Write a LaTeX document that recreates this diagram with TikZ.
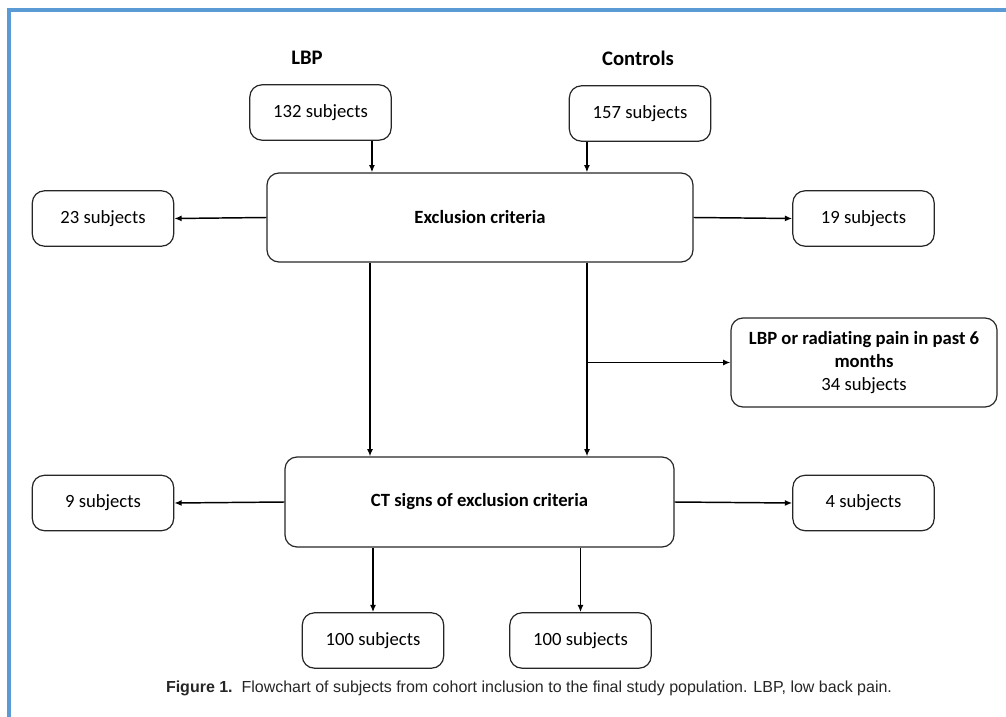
\documentclass[tikz,border=0pt]{standalone}
\usepackage{fontspec}
\setmainfont{Carlito}[Ligatures=NoCommon]
\newfontfamily\capfont{Liberation Sans}
\usetikzlibrary{arrows.meta}
\definecolor{frameblue}{RGB}{91,155,213}
\tikzset{
  box/.style={draw=black!85, line width=0.9pt, rounded corners=9pt, align=center,
    inner sep=0pt, font=\fontsize{14}{17}\selectfont},
  small/.style={box, minimum width=106pt, minimum height=41.5pt},
  flow/.style={-{Latex[length=5.5pt,width=4.5pt]}, line width=1.1pt},
  head/.style={font=\fontsize{15.5}{18}\selectfont\bfseries},
}

\begin{document}
\begin{tikzpicture}[x=0.75pt,y=-0.75pt]
        \useasboundingbox (0,0) rectangle (1006,717);
        \draw [frameblue, line width=2.3pt] (9,717) -- (9,10) -- (1006,10);
        \node [head] (LBP)  at (307,58) {LBP};
        \node [head] (CTL)  at (638,58) {Controls};
        \node [small] (S132) at (320.5,112.5) {132 subjects};
        \node [small] (S157) at (640,113.5) {157 subjects};
        \node [box, minimum width=319.5pt, minimum height=66.75pt] (EXC) at (480,217.5) {\bfseries Exclusion criteria};
        \node [small] (S23) at (103,218.5) {23 subjects};
        \node [small] (S19) at (863.5,218.5) {19 subjects};
        \node [box, minimum width=199.5pt, minimum height=66.75pt] (PAIN) at (864,362.5) {\bfseries LBP or radiating pain in past 6\\ \bfseries months\\ 34 subjects};
        \node [box, minimum width=291.75pt, minimum height=67.5pt] (CT) at (479.5,502) {\bfseries CT signs of exclusion criteria};
        \node [small] (S9)  at (103,503) {9 subjects};
        \node [small] (S4)  at (863.5,503) {4 subjects};
        \node [small] (FA)  at (373,640.5) {100 subjects};
        \node [small] (FB)  at (580.5,640.5) {100 subjects};
        \node [font=\capfont\fontsize{12}{14}\selectfont, text=black!85] (CAP) at (529,688) {{\bfseries Figure 1.}\ \ Flowchart of subjects from cohort inclusion to the final study population. LBP, low back pain.};
        \coordinate (BR) at (587,362.5);
        \draw [flow] ([xshift=38.6pt]S132.south) -- ([xshift=38.6pt]S132.south |- EXC.north);
        \draw [flow] ([xshift=-39.8pt]S157.south) -- ([xshift=-39.8pt]S157.south |- EXC.north);
        \draw [flow] (EXC.west) -- (S23.east);
        \draw [flow] (EXC.east) -- (S19.west);
        \draw [flow] ([xshift=-82.5pt]EXC.south) -- ([xshift=-82.5pt]EXC.south |- CT.north);
        \draw [flow] ([xshift=80.25pt]EXC.south) -- ([xshift=80.25pt]EXC.south |- CT.north);
        \draw [flow] (BR) -- (PAIN.west);
        \draw [flow] (CT.west) -- (S9.east);
        \draw [flow] (CT.east) -- (S4.west);
        \draw [flow] (CT.south -| FA.north) -- (FA.north);
        \draw [flow] (CT.south -| FB.north) -- (FB.north);
\end{tikzpicture}
\end{document}
